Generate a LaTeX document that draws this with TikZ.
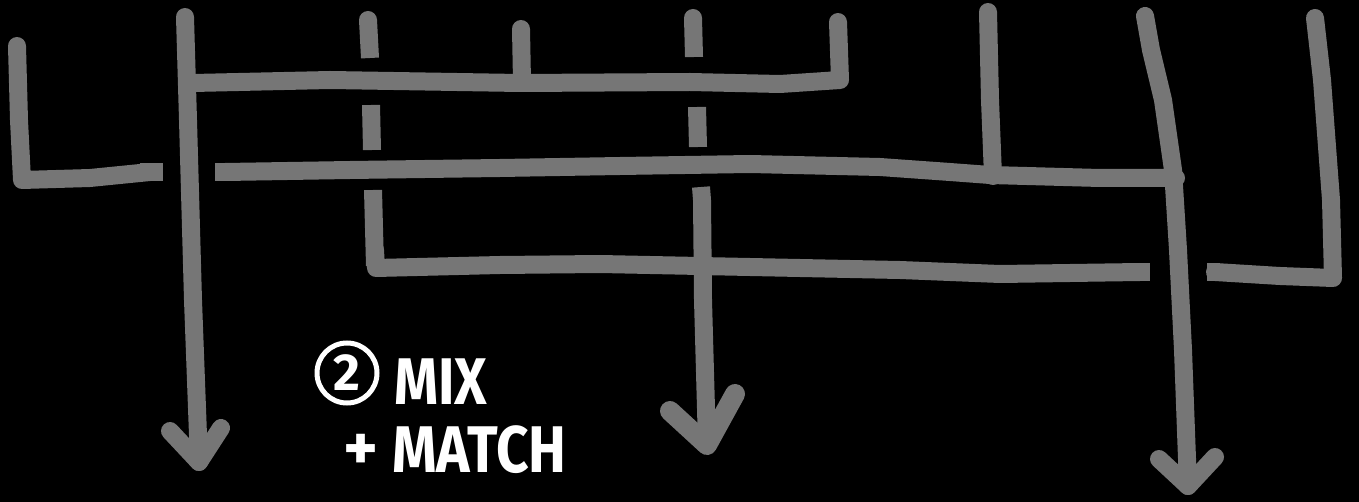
\documentclass[tikz,border=0pt]{standalone}
\usepackage{fontspec}
\usepackage{graphicx}
\newfontfamily\hand{Fira Sans}
\definecolor{linegray}{RGB}{118,118,118}
\begin{document}
\begin{tikzpicture}[x=1pt,y=-1pt,
  bar/.style={draw=linegray,line width=18pt,line join=round,line cap=round},
  cut/.style={draw=linegray,line width=18pt,line join=round,line cap=butt},
  label/.style={text=white,inner sep=0pt,anchor=base west,font=\hand\bfseries\fontsize{66}{66}\selectfont}]
\fill[black] (0,0) rectangle (1359,502);
\useasboundingbox (0,0) rectangle (1359,502);
% left L
\draw[bar] (17,46) -- (19,120) -- (22,180) -- (90,178) -- (130,174) -- (150,172);
\draw[cut] (140,172) -- (163,172);
% arrow 1
\coordinate (a1top) at (185,17);
\coordinate (a1tip) at (199,462);
\draw[bar] (a1top) -- (188,120) -- (193,300) -- (a1tip);
\draw[bar] (170,431) -- (a1tip) -- (221,428);
% top bar
\draw[bar] (193,83) -- (330,80) -- (520,83) -- (690,82) -- (780,84) -- (840,80) -- (838,22);
\draw[bar] (521,29) -- (522,82);
% dashed vertical A + bottom bar (left part)
\draw[cut] (368,20) -- (370,58);
\fill[linegray] (368,20) circle (9);
\draw[cut] (371,105) -- (372,150);
\draw[cut] (373,190) -- (375,266);
\draw[bar] (375,250) -- (376,268) -- (500,265) -- (600,264) -- (700,266) -- (900,270) -- (1000,274) -- (1140,272);
\draw[cut] (1130,272) -- (1150,272);
% dashed vertical B + arrow 2
\draw[cut] (693,18) -- (694,57);
\fill[linegray] (693,18) circle (9);
\draw[cut] (697,107) -- (698,147);
\coordinate (a2tip) at (707,445);
\draw[cut] (701,187) -- (702,200);
\draw[bar] (702,200) -- (703,300) -- (a2tip);
\draw[bar,line width=20pt] (670,411) -- (a2tip) -- (735,394);
% middle bar
\draw[cut] (215,172) -- (230,172);
\draw[bar] (225,172) -- (350,170) -- (500,168) -- (620,166) -- (750,164) -- (880,167) -- (950,172) -- (990,175) -- (1100,178) -- (1176,178);
% vertical at 990
\draw[bar] (988,12) -- (990,100) -- (993,176);
% arrow 3
\coordinate (a3tip) at (1188,486);
\draw[bar] (1145,16) -- (1151,50) -- (1163,100) -- (1173,170) -- (1178,250) -- (1183,350) -- (a3tip);
\draw[bar] (1159,459) -- (a3tip) -- (1215,457);
% right piece + right vertical
\draw[cut] (1207,272) -- (1220,272);
\draw[bar] (1215,272) -- (1280,276) -- (1333,278) -- (1331,200) -- (1322,80) -- (1315,18);
% text
\node[circle,draw=white,line width=5pt,minimum size=60pt,inner sep=0pt,text=white,font=\hand\bfseries\fontsize{52}{52}\selectfont] (num) at (347,373) {2};
\node[label] (mix) at (394,404) {\scalebox{0.85}[1]{MIX}};
\node[label] (plus) at (343,470) {+};
\node[label] (match) at (392,472) {\scalebox{0.86}[1]{MATCH}};
\end{tikzpicture}
\end{document}
